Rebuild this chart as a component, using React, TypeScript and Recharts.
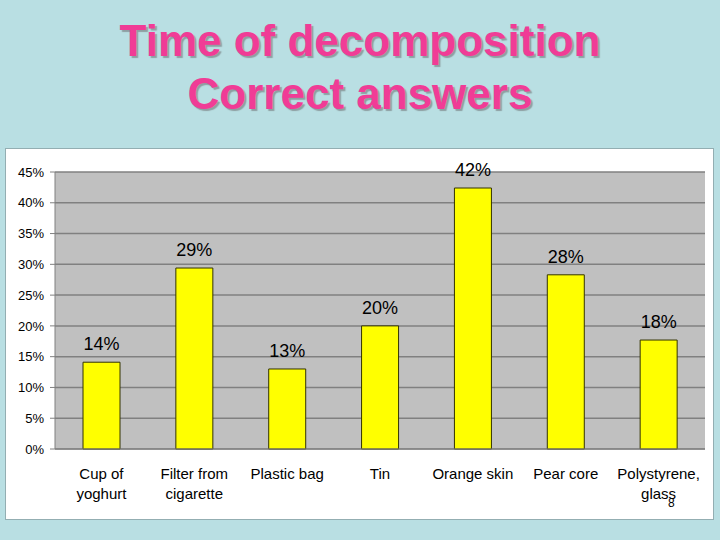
import React from "react";
import {
  BarChart,
  Bar,
  XAxis,
  YAxis,
  CartesianGrid,
  LabelList,
} from "recharts";

const categories = [
  "Cup of yoghurt",
  "Filter from cigarette",
  "Plastic bag",
  "Tin",
  "Orange skin",
  "Pear core",
  "Polystyrene, glass",
];
const tickLines = [
  ["Cup of", "yoghurt"],
  ["Filter from", "cigarette"],
  ["Plastic bag"],
  ["Tin"],
  ["Orange skin"],
  ["Pear core"],
  ["Polystyrene,", "glass"],
];
const correctShare = [14.1, 29.4, 13.0, 20.0, 42.4, 28.3, 17.7];
const yTicks = [0, 5, 10, 15, 20, 25, 30, 35, 40, 45];
const edgeTicks = [0, 1, 2, 3, 4, 5, 6, 7];

const data = categories.map((c, i) => ({ name: c, value: correctShare[i] }));

const FONT = "'Liberation Sans', Arial, sans-serif";

const CatTick = (props: any) => {
  const { x, y, payload } = props;
  const lines = tickLines[payload.index] || [String(payload.value)];
  return (
    <g transform={`translate(${x},${y})`}>
      <text textAnchor="middle" fontSize={15} fontFamily={FONT} fill="#000">
        {lines.map((l, i) => (
          <tspan key={i} x={0} dy={i === 0 ? 30 : 20}>
            {l}
          </tspan>
        ))}
      </text>
    </g>
  );
};

export default function App() {
  return (
    <div
      style={{
        position: "absolute",
        left: 0,
        top: 0,
        width: 720,
        height: 540,
        background: "#B9DFE3",
        overflow: "hidden",
        fontFamily: FONT,
      }}
    >
      <div
        style={{
          position: "absolute",
          left: 0,
          top: 14,
          width: 720,
          textAlign: "center",
          fontSize: 44,
          fontWeight: "bold",
          lineHeight: "53px",
          color: "#F03C96",
          textShadow: "2px 2px 1px #8E9FA2",
          fontFamily: FONT,
        }}
      >
        <div>Time of decomposition</div>
        <div>Correct answers</div>
      </div>
      <div
        style={{
          position: "absolute",
          left: 5,
          top: 148,
          width: 709,
          height: 372,
          background: "#FFFFFF",
          border: "1px solid #93AEB2",
          boxSizing: "border-box",
        }}
      />
      <div style={{ position: "absolute", left: 0, top: 0 }}>
        <BarChart
          width={720}
          height={540}
          data={data}
          margin={{ top: 172, right: 15, bottom: 0, left: 0 }}
          barSize={37}
        >
          <CartesianGrid
            xAxisId="cat"
            yAxisId="left"
            vertical={false}
            fill="#C0C0C0"
            stroke="#808080"
            strokeWidth={1.5}
          />
          <XAxis
            xAxisId="edges"
            type="number"
            domain={[0, 7]}
            ticks={edgeTicks}
            height={0}
            axisLine={false}
            tickLine={{ stroke: "#808080" }}
            tickSize={5}
            tick={() => <g />}
          />
          <XAxis
            xAxisId="cat"
            dataKey="name"
            height={91}
            axisLine={{ stroke: "#808080" }}
            tickLine={false}
            tickSize={0}
            tickMargin={0}
            interval={0}
            tick={<CatTick />}
          />
          <YAxis
            yAxisId="left"
            domain={[0, 45]}
            ticks={yTicks}
            width={55}
            axisLine={{ stroke: "#808080" }}
            tickLine={{ stroke: "#808080" }}
            tickSize={5}
            tickMargin={6}
            tickFormatter={(v: number) => `${v}%`}
            tick={{ fontSize: 13, fill: "#000", fontFamily: FONT }}
            interval={0}
          />
          <YAxis
            yAxisId="right"
            orientation="right"
            domain={[0, 45]}
            width={0}
            axisLine={{ stroke: "#808080" }}
            tickLine={false}
            tick={false}
          />
          <Bar
            xAxisId="cat"
            yAxisId="left"
            dataKey="value"
            fill="#FFFF00"
            stroke="#333300"
            strokeWidth={1}
            isAnimationActive={false}
          >
            <LabelList
              dataKey="value"
              position="top"
              offset={12}
              formatter={(v: any) => `${Math.round(Number(v))}%`}
              style={{ fontSize: 18, fill: "#000", fontFamily: FONT }}
            />
          </Bar>
        </BarChart>
      </div>
      <div
        style={{
          position: "absolute",
          left: 668,
          top: 496,
          fontSize: 12,
          color: "#000",
          fontFamily: FONT,
        }}
      >
        8
      </div>
    </div>
  );
}
